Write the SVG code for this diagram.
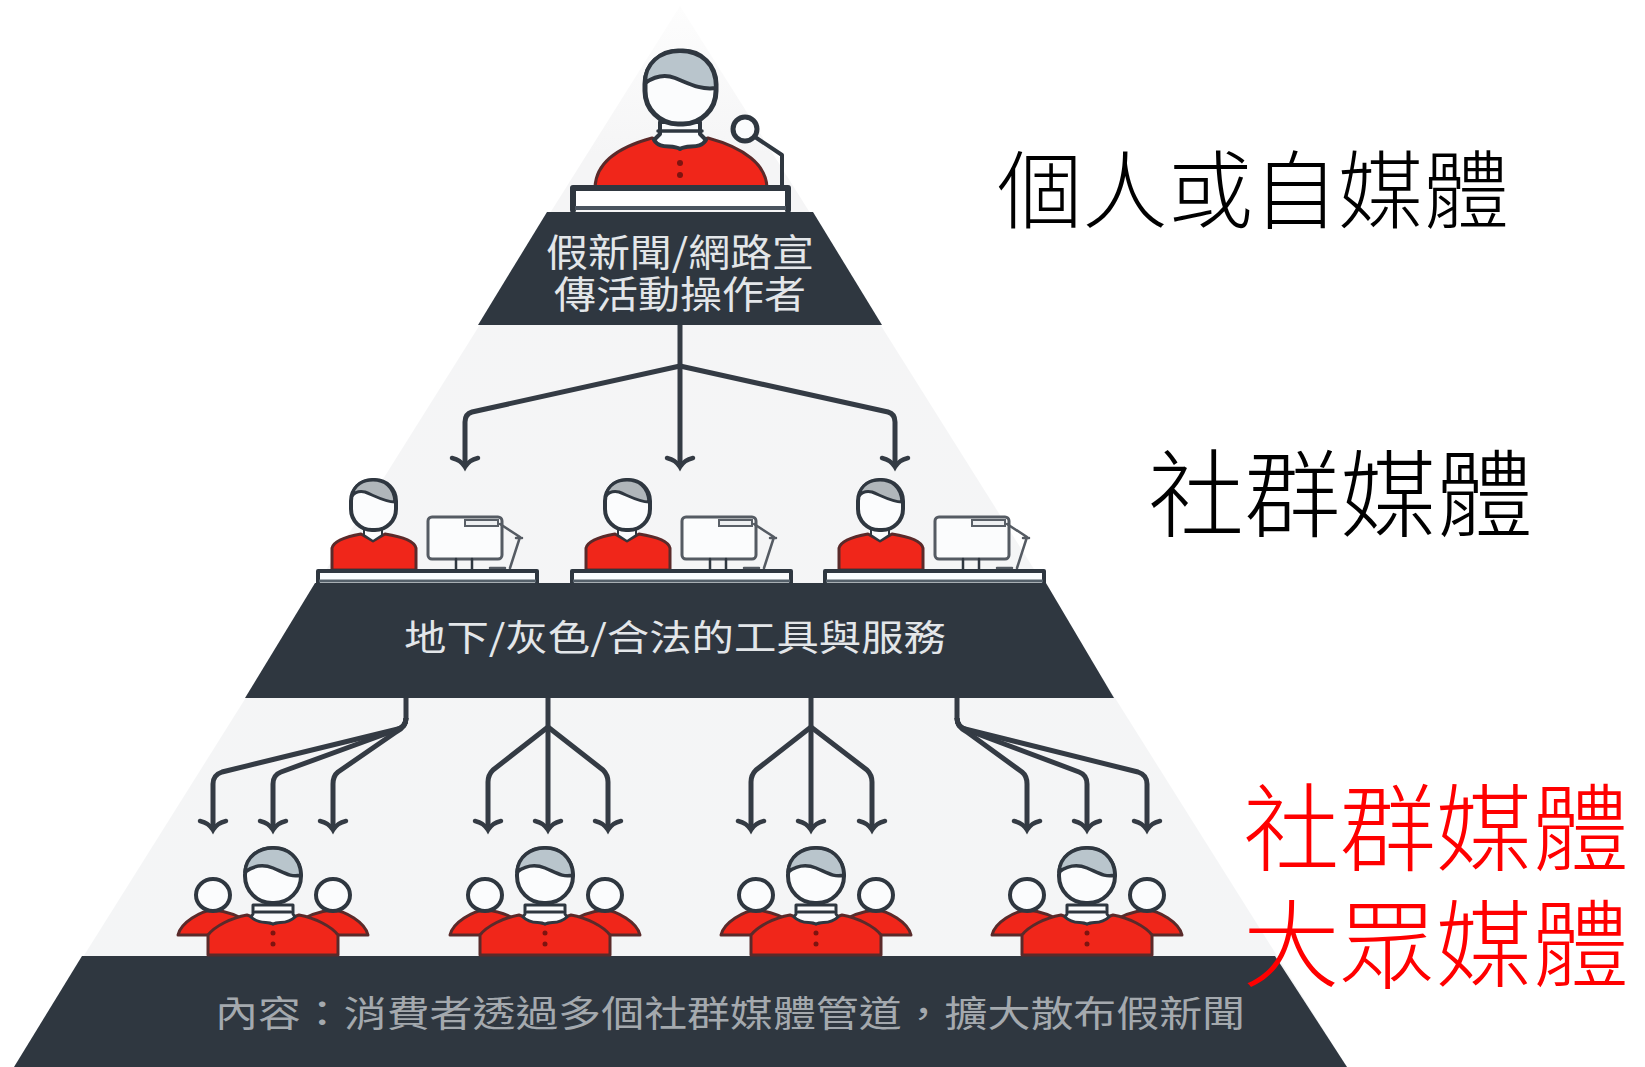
<svg xmlns="http://www.w3.org/2000/svg" width="1645" height="1067" viewBox="0 0 1645 1067">
<style>
.band{fill:#2f3740}
.ln{fill:none;stroke:#2f3740;stroke-linejoin:round;stroke-linecap:round}
.wh{fill:#fbfcfd;stroke:#2f3740;stroke-linejoin:round}
.hair{fill:#b9c5cc;stroke:#2f3740;stroke-linejoin:round}
.red{fill:#f0261a;stroke:#5a2a2a;stroke-linejoin:round}
.cx{fill:none;stroke:#343b44;stroke-width:5;stroke-linejoin:round}
.t{font-family:"Noto Sans CJK TC","Noto Sans CJK SC",sans-serif}
.lab{font-size:38px;font-weight:400;fill:#e3e6e9;text-anchor:middle}
.big{font-weight:300;fill:#000}
.bigr{font-weight:300;fill:#f00}
</style>
<defs>
<linearGradient id="fade" x1="0" y1="0" x2="0" y2="1">
<stop offset="0" stop-color="#fdfdfd"/>
<stop offset="0.14" stop-color="#f5f5f6"/>
<stop offset="1" stop-color="#f4f5f6"/>
</linearGradient>
<marker id="arr" markerUnits="userSpaceOnUse" markerWidth="30" markerHeight="32" viewBox="-15 -16 30 32" refX="3" refY="0" orient="auto">
<path d="M-6 -13 Q-4 -4 3 0 Q-4 4 -6 13" fill="none" stroke="#343b44" stroke-width="4.5" stroke-linecap="round"/>
</marker>
<g id="crowd">
<path class="red" stroke-width="3" d="M-95 935 C-92 922 -72 911 -60 910 C-45 911 -30 918 -20 925 L-20 935 Z"/>
<path class="red" stroke-width="3" d="M95 935 C92 922 72 911 60 910 C45 911 30 918 20 925 L20 935 Z"/>
<ellipse class="wh" stroke-width="4" cx="-60" cy="895" rx="17" ry="16"/>
<ellipse class="wh" stroke-width="4" cx="60" cy="895" rx="17" ry="16"/>
<path class="red" stroke-width="3" d="M-65 955 V935 C-58 926 -42 918 -26 915 L0 924 L26 915 C42 918 58 926 65 935 V955 Z"/>
<path class="wh" stroke-width="3" d="M-20 905 V914 L-22 917 C-14 925 -6 921 0 924 C6 921 14 925 22 917 L20 914 V905 Z"/>
<path class="ln" stroke-width="3" d="M-18 912 H18"/>
<rect class="wh" stroke-width="4" x="-28" y="848" width="56" height="55" rx="27" ry="27"/>
<path class="hair" stroke-width="3.5" d="M-28 872 C-27 856 -14 848 0 848 C14 848 27 856 28 875 C18 878 10 872 0 868 C-10 864 -20 866 -28 872 Z"/>
<circle cx="0" cy="933" r="2.5" fill="#7d1410"/>
<circle cx="0" cy="944" r="2.5" fill="#7d1410"/>
</g>
<g id="station">
<path class="red" stroke-width="3" d="M332 570 V548 C334 540 350 536 361 534 L373 541 L385 534 C398 536 414 540 416 548 V570 Z"/>
<path class="wh" stroke-width="2" d="M364 526 V535 L373 541 L382 535 V526 Z"/>
<rect class="wh" stroke-width="4" x="351" y="480" width="45" height="50" rx="21" ry="21"/>
<path class="hair" stroke-width="3" d="M352 496 C354 484 364 480 373 480 C384 480 394 486 395 502 C385 502 375 496 365 492 C360 491 355 492 352 496 Z" style="fill:#b0b6ba"/>
<rect class="wh" stroke-width="3" x="428" y="517" width="74" height="42" rx="4" style="stroke:#555b63"/>
<rect x="465" y="520" width="33" height="6" fill="#eef0f2" stroke="#5a6068" stroke-width="2"/>
<path class="ln" stroke-width="2.5" d="M456 559 V570 M472 559 V570"/>
<path class="ln" stroke-width="2.5" d="M500 524 L520 537 L510 568 M516 538 H522 M505 568 H490" style="stroke:#555b63"/>
<path d="M317 570 H538 V583 H317 Z" fill="#fbfcfd"/>
<path class="ln" stroke-width="4" d="M318 583 V571 H537 V583"/>
<path d="M319 581 H536" stroke="#55606a" stroke-width="3"/>
</g>
</defs>
<path id="pyramid" d="M680 6 L1347 1067 H14 Z" fill="url(#fade)"/>
<g id="bands">
<path id="band-top" class="band" d="M547 212 H813 L882 325 H478 Z"/>
<path id="band-mid" class="band" d="M315 583 H1046 L1114 698 H245 Z"/>
<path id="band-bottom" class="band" d="M82 956 H1275 L1347 1067 H14 Z"/>
</g>
<g id="connectors">
<path class="cx" d="M680 325 V467" marker-end="url(#arr)"/>
<path class="cx" d="M680 366 L472 412 Q465 414 465 422 V467" marker-end="url(#arr)"/>
<path class="cx" d="M680 366 L888 412 Q895 414 895 422 V467" marker-end="url(#arr)"/>

<path class="cx" d="M406 698 V718 Q406 727 398 729 L222 772 Q213 775 213 784 V830" marker-end="url(#arr)"/>
<path class="cx" d="M406 718 Q406 727 396 730 L281 772 Q273 775 273 784 V830" marker-end="url(#arr)"/>
<path class="cx" d="M406 718 Q406 727 396 732 L338 772 Q333 776 333 784 V830" marker-end="url(#arr)"/>

<path class="cx" d="M548 698 V830" marker-end="url(#arr)"/>
<path class="cx" d="M548 727 L493 770 Q488 775 488 782 V830" marker-end="url(#arr)"/>
<path class="cx" d="M548 727 L603 770 Q608 775 608 782 V830" marker-end="url(#arr)"/>

<path class="cx" d="M811 698 V830" marker-end="url(#arr)"/>
<path class="cx" d="M811 727 L756 770 Q751 775 751 782 V830" marker-end="url(#arr)"/>
<path class="cx" d="M811 727 L867 770 Q872 775 872 782 V830" marker-end="url(#arr)"/>

<path class="cx" d="M957 698 V718 Q957 727 965 729 L1138 772 Q1147 775 1147 784 V830" marker-end="url(#arr)"/>
<path class="cx" d="M957 718 Q957 727 967 730 L1079 772 Q1087 775 1087 784 V830" marker-end="url(#arr)"/>
<path class="cx" d="M957 718 Q957 727 967 732 L1022 772 Q1027 776 1027 784 V830" marker-end="url(#arr)"/>
</g>
<g id="speaker">
<path class="ln" stroke-width="4" d="M755 137 L782 155 V187"/>
<circle class="wh" stroke-width="5" cx="745" cy="129" r="12"/>
<path class="red" stroke-width="3" d="M595 187 C596 165 615 148 652 138 L680 148 L708 138 C745 148 766 165 767 187 Z"/>
<path class="wh" stroke-width="4" d="M660 122 V134 L654 140 C660 150 672 144 680 149 C688 144 700 150 706 140 L700 134 V122 Z"/>
<path class="ln" stroke-width="3.5" d="M658 131 H702"/>
<rect class="wh" stroke-width="5" x="645" y="51" width="71" height="73" rx="33" ry="33"/>
<path class="hair" stroke-width="4" d="M645 83 C645 63 660 51 680 51 C700 51 716 63 716 88 C700 90 690 84 675 78 C665 74 655 76 645 83 Z"/>
<circle cx="680" cy="163" r="3" fill="#7d1410"/>
<circle cx="680" cy="175" r="3" fill="#7d1410"/>
<rect x="572" y="188" width="217" height="22" fill="#fff"/>
<path class="ln" stroke-width="6" d="M573 210 V188 H788 V210"/>
<path d="M575 208 H786" stroke="#4a545e" stroke-width="4"/>
</g>
<g id="stations">
<use id="station-1" href="#station"/>
<use id="station-2" href="#station" x="254"/>
<use id="station-3" href="#station" x="507"/>
</g>
<g id="crowds">
<use id="crowd-1" href="#crowd" x="273"/>
<use id="crowd-2" href="#crowd" x="545"/>
<use id="crowd-3" href="#crowd" x="816"/>
<use id="crowd-4" href="#crowd" x="1087"/>
</g>
<g id="labels">
<text class="t lab" x="680" y="266" textLength="268" lengthAdjust="spacingAndGlyphs">假新聞/網路宣</text>
<text class="t lab" x="680" y="308" textLength="252" lengthAdjust="spacingAndGlyphs">傳活動操作者</text>
<text class="t lab" x="675" y="651" textLength="542" lengthAdjust="spacingAndGlyphs" style="font-size:36px">地下/灰色/合法的工具與服務</text>
<text class="t lab" x="730" y="1027" textLength="1030" lengthAdjust="spacingAndGlyphs" style="font-size:36px;fill:#a4a9ae">內容：消費者透過多個社群媒體管道，擴大散布假新聞</text>
</g>
<g id="level-labels">
<text class="t big" x="997" y="222" font-size="85" textLength="512" lengthAdjust="spacingAndGlyphs">個人或自媒體</text>
<text class="t big" x="1148" y="530" font-size="95" textLength="385" lengthAdjust="spacingAndGlyphs">社群媒體</text>
<text class="t bigr" x="1243" y="864" font-size="95" textLength="386" lengthAdjust="spacingAndGlyphs">社群媒體</text>
<text class="t bigr" x="1243" y="980" font-size="95" textLength="386" lengthAdjust="spacingAndGlyphs">大眾媒體</text>
</g>
</svg>
